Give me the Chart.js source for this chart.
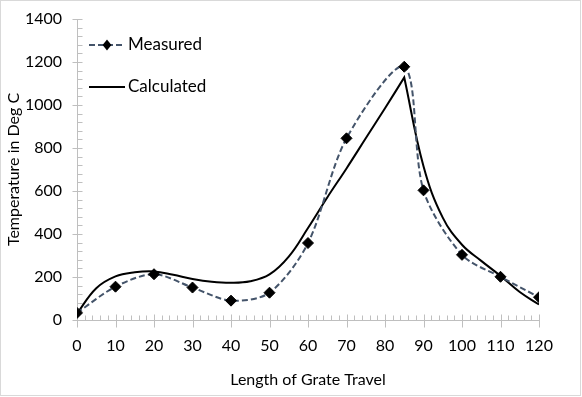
<!DOCTYPE html>
<html>
<head>
<meta charset="utf-8">
<script src="https://cdn.jsdelivr.net/npm/chart.js@4/dist/chart.umd.min.js"></script>
<style>
  body { margin: 0; background: #fff; }
  #wrap { width: 582px; height: 397px; }
</style>
</head>
<body>
<div id="wrap"><canvas id="myChart" width="582" height="397"></canvas></div>
<script>
// values
const xMeasured = [0, 10, 20, 30, 40, 50, 60, 70, 85, 90, 100, 110, 120];
const measured = [33, 155, 213, 151, 90, 127, 358, 845, 1178, 603, 303, 201, 106];
// calculated curve read every 5 units; the peak at 85 is listed twice so the
// smoothed line keeps its sharp corner there
const xCalculated = [0, 5, 10, 15, 20, 25, 30, 35, 40, 45, 50, 55, 60, 65, 70, 75, 80, 85, 85, 90, 95, 100, 105, 110, 115, 120];
const calculated = [30, 148, 203, 222, 226, 210, 191, 178, 173, 180, 212, 295, 428, 570, 705, 845, 985, 1128, 1128, 715, 476, 350, 275, 205, 130, 72];
const xTicks = [0, 10, 20, 30, 40, 50, 60, 70, 80, 90, 100, 110, 120];
const yTicks = [0, 200, 400, 600, 800, 1000, 1200, 1400];

const FONT = "Lato, 'Open Sans', sans-serif";
const FSIZE = 16;
const axisColor = "#bfbfbf";

const toPoints = (xs, ys) => xs.map((x, i) => ({ x: x, y: ys[i] }));

// axis lines + excel style ticks (major crossing, minor inside)
const axesPlugin = {
  id: "excelAxes",
  beforeDatasetsDraw(chart) {
    const { ctx, chartArea, scales } = chart;
    const xs = scales.x, ys = scales.y;
    ctx.save();
    ctx.strokeStyle = axisColor;
    ctx.lineWidth = 1;
    ctx.beginPath();
    const ax = Math.round(chartArea.left) + 0.5;
    const ay = Math.round(chartArea.bottom) + 0.5;
    ctx.moveTo(ax, chartArea.top);
    ctx.lineTo(ax, ay);
    ctx.lineTo(chartArea.right, ay);
    // y minor every 40
    for (let v = 0; v <= 1400; v += 40) {
      const py = Math.round(ys.getPixelForValue(v)) + 0.5;
      if (v % 200 === 0) {
        ctx.moveTo(ax - 5, py); ctx.lineTo(ax + 5, py);
      } else {
        ctx.moveTo(ax, py); ctx.lineTo(ax + 5, py);
      }
    }
    // x minor every 2
    for (let v = 0; v <= 120; v += 2) {
      const px = Math.round(xs.getPixelForValue(v)) + 0.5;
      if (v % 10 === 0) {
        ctx.moveTo(px, ay - 6); ctx.lineTo(px, ay + 7);
      } else {
        ctx.moveTo(px, ay - 5); ctx.lineTo(px, ay);
      }
    }
    ctx.stroke();
    ctx.restore();
  }
};

// legend inside the plot, stacked
const legendPlugin = {
  id: "insideLegend",
  afterDatasetsDraw(chart) {
    const { ctx, chartArea } = chart;
    const x0 = chartArea.left + 12, x1 = chartArea.left + 48;
    const rows = [chartArea.top + 26, chartArea.top + 68];
    ctx.save();
    chart.data.datasets.forEach((ds, i) => {
      const y = rows[i];
      ctx.strokeStyle = ds.borderColor;
      ctx.lineWidth = ds.borderWidth;
      ctx.setLineDash(ds.borderDash || []);
      ctx.beginPath();
      ctx.moveTo(x0, y); ctx.lineTo(x1, y);
      ctx.stroke();
      ctx.setLineDash([]);
      if (ds.pointRadius > 0) {
        const r = ds.pointRadius;
        const cx = (x0 + x1) / 2;
        ctx.fillStyle = ds.pointBackgroundColor;
        ctx.beginPath();
        ctx.moveTo(cx, y - r); ctx.lineTo(cx + r * 0.8, y);
        ctx.lineTo(cx, y + r); ctx.lineTo(cx - r * 0.8, y);
        ctx.closePath();
        ctx.fill();
      }
      ctx.fillStyle = "#000";
      ctx.font = (FSIZE + 1) + "px " + FONT;
      ctx.textBaseline = "middle";
      ctx.fillText(ds.label, x1 + 3, y);
    });
    ctx.restore();
  }
};

const framePlugin = {
  id: "frame",
  afterDraw(chart) {
    const { ctx } = chart;
    ctx.save();
    ctx.strokeStyle = "#d9d9d9";
    ctx.lineWidth = 1;
    ctx.strokeRect(0.5, 0.5, 580, 395);
    ctx.restore();
  }
};

const ctx = document.getElementById("myChart").getContext("2d");
new Chart(ctx, {
  type: "line",
  data: {
    datasets: [
      {
        label: "Measured",
        data: toPoints(xMeasured, measured),
        borderColor: "#44546a",
        borderWidth: 2,
        borderDash: [6, 3],
        tension: 0.3,
        pointStyle: "rectRot",
        pointRadius: 5.5,
        pointBackgroundColor: "#000",
        pointBorderColor: "#000",
        pointBorderWidth: 1
      },
      {
        label: "Calculated",
        data: toPoints(xCalculated, calculated),
        borderColor: "#000",
        borderWidth: 2,
        tension: 0.4,
        pointRadius: 0
      }
    ]
  },
  options: {
    responsive: false,
    animation: false,
    layout: { padding: { top: 19, right: 43, left: 0, bottom: 0 } },
    plugins: {
      legend: { display: false },
      tooltip: { enabled: false }
    },
    scales: {
      x: {
        type: "linear",
        min: 0,
        max: 120,
        afterBuildTicks: (s) => { s.ticks = xTicks.map(v => ({ value: v })); },
        afterFit: (s) => { s.height = 77; s.paddingLeft = 0; s.paddingRight = 0; },
        grid: { display: false, drawTicks: false },
        border: { display: false },
        ticks: { padding: 16, color: "#000", font: { size: FSIZE, family: FONT }, callback: (v) => String(v) },
        title: {
          display: true,
          text: "Length of Grate Travel",
          color: "#000",
          font: { size: FSIZE, family: FONT },
          padding: { top: 0, bottom: 8 }
        }
      },
      y: {
        min: 0,
        max: 1400,
        afterBuildTicks: (s) => { s.ticks = yTicks.map(v => ({ value: v })); },
        afterFit: (s) => { s.width = 77; s.paddingTop = 0; s.paddingBottom = 0; },
        grid: { display: false, drawTicks: false },
        border: { display: false },
        ticks: { padding: 15, color: "#000", font: { size: FSIZE, family: FONT }, callback: (v) => String(v) },
        title: {
          display: true,
          text: "Temperature in Deg C",
          color: "#000",
          font: { size: FSIZE, family: FONT },
          padding: { top: 4, bottom: 0 }
        }
      }
    }
  },
  plugins: [axesPlugin, legendPlugin, framePlugin]
});
</script>
</body>
</html>
